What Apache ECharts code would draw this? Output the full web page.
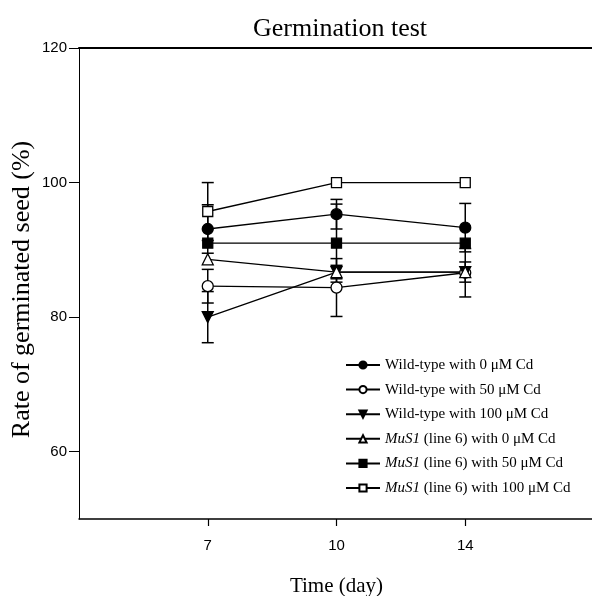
<!DOCTYPE html>
<html>
<head>
<meta charset="utf-8">
<script src="https://cdn.jsdelivr.net/npm/echarts@6/dist/echarts.min.js"></script>
<style>
  html, body { margin: 0; padding: 0; background: #fff; }
  #chart { width: 592px; height: 596px; }
</style>
</head>
<body>
<div id="chart"></div>
<script>
(function() {
  var serif = '"Liberation Serif", "Times New Roman", serif';
  var sans = '"Liberation Sans", Arial, sans-serif';

  // axis categories (empty slots pad both ends)
  var categories = ['', '7', '10', '14', ''];
  var days = ['7', '10', '14'];
  var yTicks = [60, 80, 100, 120];

  // means and error half-widths
  var wt0 = [93.1, 95.3, 93.3];      var wt0Err = [3.6, 2.2, 3.6];
  var wt50 = [84.6, 84.4, 86.6];     var wt50Err = [2.5, 4.3, 3.6];
  var wt100 = [80.0, 86.7, 86.7];    var wt100Err = [3.8, 1.0, 1.5];
  var mus0 = [88.6, 86.7, 86.7];     var mus0Err = [0, 0, 0];
  var mus50 = [91.0, 91.0, 91.0];    var mus50Err = [0, 5.8, 0];
  var mus100 = [95.7, 100.0, 100.0]; var mus100Err = [4.3, 0, 0];

  var groups = [
    { name: 'Wild-type with 0 μM Cd', vals: wt0, err: wt0Err, symbol: 'circle', fill: '#000' },
    { name: 'Wild-type with 50 μM Cd', vals: wt50, err: wt50Err, symbol: 'circle', fill: '#fff' },
    { name: 'Wild-type with 100 μM Cd', vals: wt100, err: wt100Err, symbol: 'triangle', rotate: 180, fill: '#000' },
    { name: 'MuS1 (line 6) with 0 μM Cd', vals: mus0, err: mus0Err, symbol: 'triangle', fill: '#fff' },
    { name: 'MuS1 (line 6) with 50 μM Cd', vals: mus50, err: mus50Err, symbol: 'rect', fill: '#000' },
    { name: 'MuS1 (line 6) with 100 μM Cd', vals: mus100, err: mus100Err, symbol: 'rect', fill: '#fff' }
  ];

  // error bar segments
  var errData = [];
  groups.forEach(function(g) {
    g.vals.forEach(function(v, i) {
      if (g.err[i] > 0) errData.push([days[i], v - g.err[i], v + g.err[i]]);
    });
  });

  var series = [{
    type: 'custom',
    name: 'err',
    z: 1,
    silent: true,
    data: errData,
    encode: { x: 0, y: [1, 2] },
    renderItem: function(params, api) {
      var lo = api.coord([api.value(0), api.value(1)]);
      var hi = api.coord([api.value(0), api.value(2)]);
      var w = 6;
      var st = { stroke: '#000', lineWidth: 1.5 };
      return {
        type: 'group',
        children: [
          { type: 'line', shape: { x1: lo[0], y1: lo[1], x2: hi[0], y2: hi[1] }, style: st },
          { type: 'line', shape: { x1: lo[0] - w, y1: lo[1], x2: lo[0] + w, y2: lo[1] }, style: st },
          { type: 'line', shape: { x1: hi[0] - w, y1: hi[1], x2: hi[0] + w, y2: hi[1] }, style: st }
        ]
      };
    }
  }];

  groups.forEach(function(g) {
    series.push({
      type: 'line',
      name: g.name,
      z: 3,
      data: g.vals.map(function(v, i) { return [days[i], v]; }),
      symbol: g.symbol,
      symbolSize: g.symbol === 'rect' ? 10 : 11,
      symbolRotate: g.rotate || 0,
      showAllSymbol: true,
      lineStyle: { color: '#000', width: 1.3 },
      itemStyle: { color: g.fill, borderColor: '#000', borderWidth: 1.3 }
    });
  });

  var chart = echarts.init(document.getElementById('chart'), null, { renderer: 'canvas' });
  chart.setOption({
    animation: false,
    backgroundColor: '#fff',
    title: {
      text: 'Germination test',
      left: 335,
      top: 11,
      textAlign: 'center',
      textStyle: { fontFamily: serif, fontSize: 26, fontWeight: 'normal', color: '#000' }
    },
    legend: {
      orient: 'vertical',
      left: 340,
      top: 352,
      itemWidth: 34,
      itemHeight: 9,
      itemGap: 8.6,
      data: groups.map(function(g) { return g.name; }),
      formatter: function(name) {
        return name.indexOf('MuS1') === 0 ? '{i|MuS1}' + name.slice(4) : name;
      },
      textStyle: {
        fontFamily: serif, fontSize: 15, color: '#000', lineHeight: 16,
        rich: { i: { fontFamily: serif, fontSize: 15, fontStyle: 'italic', color: '#000', lineHeight: 16 } }
      }
    },
    grid: { left: 79, top: 48, right: -2, bottom: 77, outerBoundsMode: 'none' },
    xAxis: [{
      type: 'category',
      data: categories,
      boundaryGap: false,
      name: 'Time (day)',
      nameLocation: 'middle',
      nameGap: 57,
      nameMoveOverlap: false,
      nameTextStyle: { fontFamily: serif, fontSize: 21, color: '#000' },
      axisLine: { lineStyle: { color: '#000', width: 1.5 } },
      axisTick: {
        alignWithLabel: true,
        length: 7,
        lineStyle: { color: '#000', width: 1.2 },
        interval: function(idx) { return idx >= 1 && idx <= 3; }
      },
      axisLabel: { margin: 19, fontFamily: sans, fontSize: 15, color: '#000', interval: 0 },
      splitLine: { show: false }
    }, {
      type: 'category',
      data: categories,
      position: 'top',
      boundaryGap: false,
      axisLine: { lineStyle: { color: '#000', width: 2 } },
      axisTick: { show: false },
      axisLabel: { show: false },
      splitLine: { show: false }
    }],
    yAxis: {
      type: 'value',
      min: 50,
      max: 120,
      name: 'Rate of germinated seed (%)',
      nameLocation: 'middle',
      nameGap: 44,
      nameMoveOverlap: false,
      nameTextStyle: { fontFamily: serif, fontSize: 26, color: '#000', padding: [0, 12, 0, 0] },
      axisLine: { show: true, lineStyle: { color: '#000', width: 1 } },
      axisTick: { show: true, length: 10, customValues: yTicks, lineStyle: { color: '#000', width: 1 } },
      axisLabel: { margin: 12, customValues: yTicks, fontFamily: sans, fontSize: 15, color: '#000' },
      splitLine: { show: false }
    },
    series: series
  });
  window.addEventListener('resize', function() { chart.resize(); });
})();
</script>
</body>
</html>
